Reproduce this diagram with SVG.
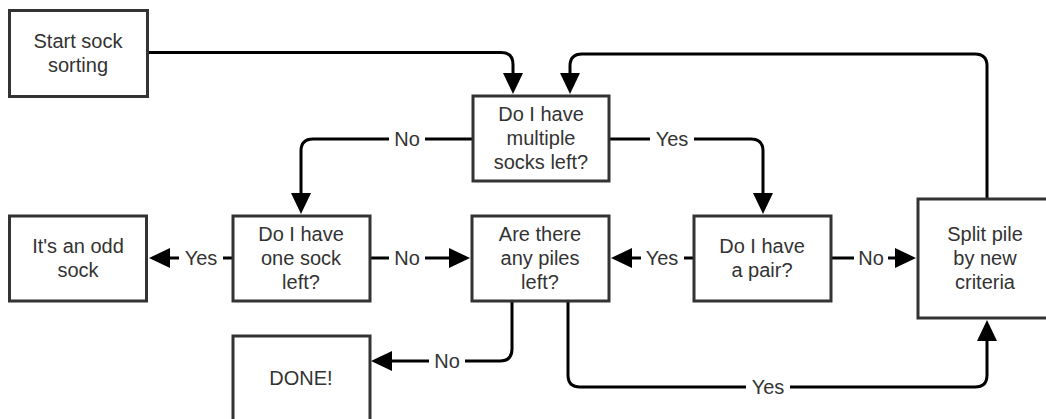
<svg xmlns="http://www.w3.org/2000/svg" width="1046" height="419" viewBox="0 0 1046 419">
<defs>
<style>
.box{fill:#fff;stroke:#333;stroke-width:3}
.t{font-family:"Liberation Sans",Arial,Helvetica,sans-serif;font-size:20px;fill:#333;text-anchor:middle}
.c{fill:none;stroke:#000;stroke-width:3;marker-end:url(#ah)}
.c2{fill:none;stroke:#000;stroke-width:3}
.lb{fill:#fff}
</style>
<marker id="ah" markerUnits="userSpaceOnUse" markerWidth="22" markerHeight="20" refX="1" refY="10" orient="auto" overflow="visible">
<path d="M0,0 L21,10 L0,20 Z" fill="#000"/>
</marker>
</defs>
<rect width="1046" height="419" fill="#fff"/>
<g id="connectors">
<path class="c" d="M148,52.5 H501 Q513,52.5 513,64.5 V74"/>
<path class="c" d="M987,199 V66 Q987,54 975,54 H582 Q570,54 570,66 V74"/>
<path class="c" d="M473,139 H313 Q301,139 301,151 V194"/>
<path class="c" d="M609,139 H751 Q763,139 763,151 V194"/>
<path class="c" d="M233,258 H169"/>
<path class="c" d="M370,258 H450"/>
<path class="c" d="M694,258 H631"/>
<path class="c" d="M831,258 H896"/>
<path class="c" d="M512,301 V349 Q512,361 500,361 H391"/>
<path class="c" d="M568,301 V375 Q568,387 580,387 H975 Q987,387 987,375 V340"/>
<g id="labels">
<rect class="lb" x="389" y="127" width="36" height="24"/><text class="t" x="407" y="146">No</text>
<rect class="lb" x="650" y="127" width="44" height="24"/><text class="t" x="672" y="146">Yes</text>
<rect class="lb" x="179" y="246" width="44" height="24"/><text class="t" x="201" y="265">Yes</text>
<rect class="lb" x="389" y="246" width="36" height="24"/><text class="t" x="407" y="265">No</text>
<rect class="lb" x="641" y="246" width="43" height="24"/><text class="t" x="662" y="265">Yes</text>
<rect class="lb" x="854" y="246" width="34" height="24"/><text class="t" x="871" y="265">No</text>
<rect class="lb" x="429" y="349" width="36" height="24"/><text class="t" x="447" y="368">No</text>
<rect class="lb" x="746" y="375" width="44" height="24"/><text class="t" x="768" y="394">Yes</text>
</g>
</g>
<g id="start">
<rect class="box" x="9.5" y="10.5" width="138" height="86"/>
<text class="t" x="78" y="48">Start sock</text>
<text class="t" x="78" y="72">sorting</text>
</g>
<g id="multiple">
<rect class="box" x="473" y="96" width="136" height="85"/>
<text class="t" x="541" y="121">Do I have</text>
<text class="t" x="541" y="145">multiple</text>
<text class="t" x="541" y="169">socks left?</text>
</g>
<g id="odd">
<rect class="box" x="9.5" y="216" width="137" height="85"/>
<text class="t" x="78" y="253">It's an odd</text>
<text class="t" x="78" y="277">sock</text>
</g>
<g id="onesock">
<rect class="box" x="233" y="216" width="137" height="85"/>
<text class="t" x="301" y="241">Do I have</text>
<text class="t" x="301" y="265">one sock</text>
<text class="t" x="301" y="289">left?</text>
</g>
<g id="piles">
<rect class="box" x="472" y="216" width="137" height="85"/>
<text class="t" x="540" y="241">Are there</text>
<text class="t" x="540" y="265">any piles</text>
<text class="t" x="540" y="289">left?</text>
</g>
<g id="pair">
<rect class="box" x="694" y="216" width="137" height="85"/>
<text class="t" x="762" y="253">Do I have</text>
<text class="t" x="762" y="277">a pair?</text>
</g>
<g id="split">
<rect class="box" x="918" y="199" width="137" height="119"/>
<text class="t" x="985" y="241">Split pile</text>
<text class="t" x="985" y="265">by new</text>
<text class="t" x="985" y="289">criteria</text>
</g>
<g id="done">
<rect class="box" x="233" y="336" width="137" height="86"/>
<text class="t" x="301" y="385">DONE!</text>
</g>
</svg>
